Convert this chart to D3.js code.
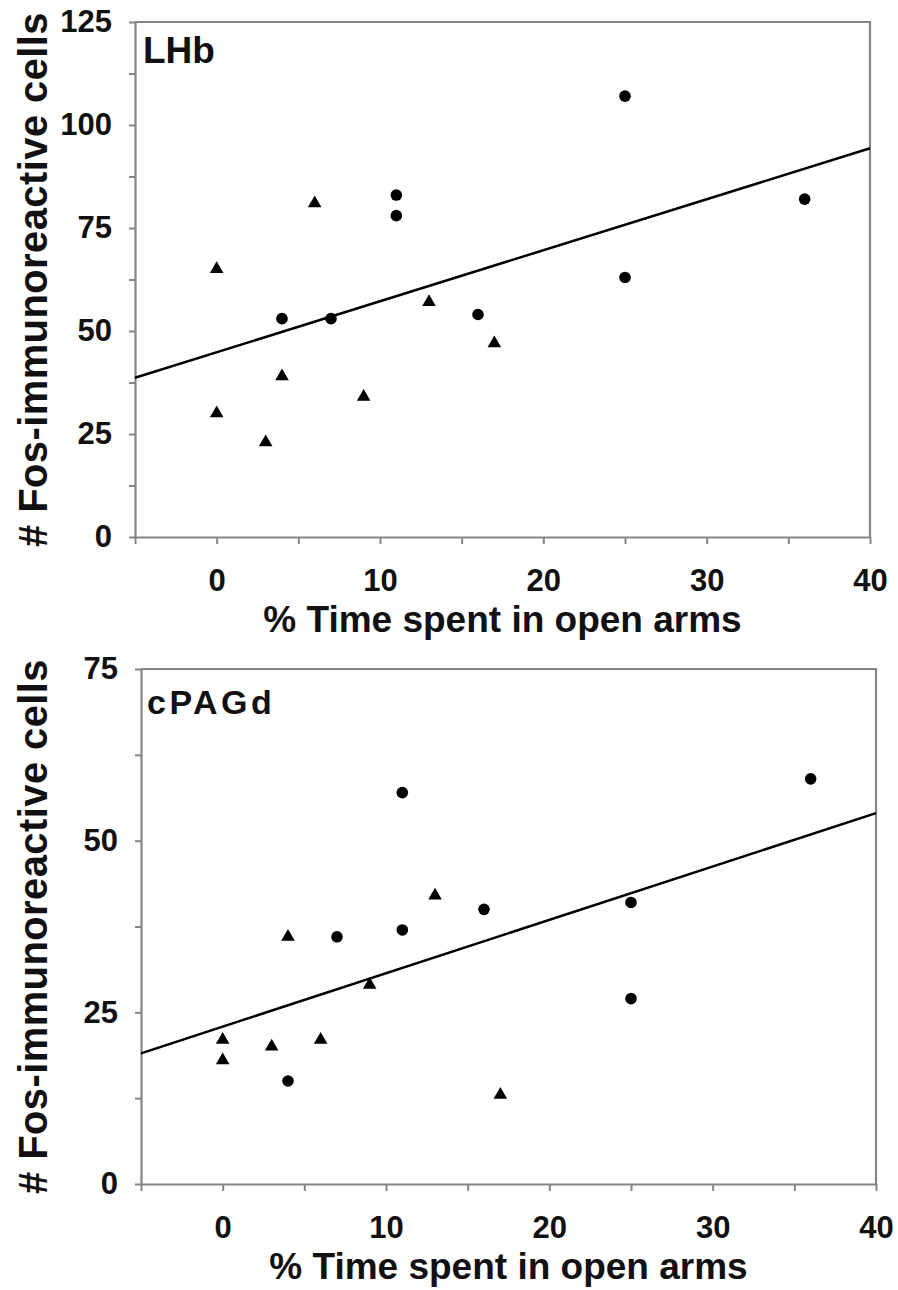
<!DOCTYPE html>
<html lang="en">
<head>
    <meta charset="UTF-8">
    <title>Fos-immunoreactive cells vs open arm time</title>
    <script src="https://d3js.org/d3.v7.min.js"></script>
    <style>
        body { margin: 0; background: #fff; }
        text { font-family: "Liberation Sans", Arial, sans-serif; font-weight: bold; fill: #111; }
    </style>
</head>
<body>
    <div id="chart"></div>

    <script>
        // % time in open arms, same animals in both panels
        const timeTri = [0, 0, 3, 4, 6, 9, 13, 17];
        const timeCirc = [4, 7, 11, 11, 16, 25, 25, 36];

        // # Fos-immunoreactive cells
        const lhbTri = [65, 30, 23, 39, 81, 34, 57, 47];
        const lhbCirc = [53, 53, 83, 78, 54, 107, 63, 82];
        const pagTri = [21, 18, 20, 36, 21, 29, 42, 13];
        const pagCirc = [15, 36, 57, 37, 40, 41, 27, 59];

        const xTicks = [0, 10, 20, 30, 40];
        const lhbYTicks = [0, 25, 50, 75, 100, 125];
        const pagYTicks = [0, 25, 50, 75];

        const xTitle = "% Time spent in open arms";
        const yTitle = "# Fos-immunoreactive cells";

        const width = 898;
        const height = 1290;
        const axisGrey = "#858585";

        const svg = d3.select("#chart").append("svg")
            .attr("width", width)
            .attr("height", height);

        function fit(xs, ys) {
            const mx = d3.mean(xs), my = d3.mean(ys);
            let sxy = 0, sxx = 0;
            xs.forEach((v, i) => {
                sxy += (v - mx) * (ys[i] - my);
                sxx += (v - mx) * (v - mx);
            });
            const slope = sxy / sxx;
            return { slope: slope, icpt: my - slope * mx };
        }

        function drawPanel(p) {
            const x = d3.scaleLinear().domain([-5, 40]).range([p.left, p.right]);
            const yMax = p.yTicks[p.yTicks.length - 1];
            const y = d3.scaleLinear().domain([0, yMax]).range([p.bottom, p.top]);
            const g = svg.append("g");

            // frame: top and right edges
            g.append("path")
                .attr("d", "M" + p.left + "," + p.top + "H" + p.right + "V" + p.bottom)
                .attr("fill", "none")
                .attr("stroke", axisGrey)
                .attr("stroke-width", 2.2);

            const yStep = p.yTicks[1] - p.yTicks[0];
            const yAll = [];
            p.yTicks.forEach((t, i) => {
                yAll.push(t);
                if (i < p.yTicks.length - 1) yAll.push(t + yStep / 2);
            });
            const yAxis = g.append("g")
                .attr("transform", "translate(" + p.left + ",0)")
                .call(d3.axisLeft(y).tickValues(yAll).tickSize(6).tickSizeOuter(0).tickPadding(17)
                    .tickFormat(d => p.yTicks.includes(d) ? d : ""));

            const xStep = xTicks[1] - xTicks[0];
            const xAll = [];
            xTicks.forEach(t => { xAll.push(t); xAll.push(t - xStep / 2); });
            const xAxis = g.append("g")
                .attr("transform", "translate(0," + p.bottom + ")")
                .call(d3.axisBottom(x).tickValues(xAll).tickSize(7).tickSizeOuter(0).tickPadding(25)
                    .tickFormat(d => xTicks.includes(d) ? d : ""));

            [yAxis, xAxis].forEach(a => {
                a.select(".domain").attr("stroke", axisGrey).attr("stroke-width", 2.2);
                a.selectAll(".tick line").attr("stroke", axisGrey).attr("stroke-width", 2);
                a.selectAll(".tick text")
                    .attr("font-family", "Liberation Sans, Arial, sans-serif")
                    .attr("font-weight", "bold")
                    .attr("font-size", 31)
                    .attr("fill", "#111");
            });

            // regression line through all points
            const xsAll = timeTri.concat(timeCirc);
            const ysAll = p.tri.concat(p.circ);
            const f = fit(xsAll, ysAll);
            const [x0, x1] = x.domain();
            g.append("line")
                .attr("x1", x(x0)).attr("y1", y(f.icpt + f.slope * x0))
                .attr("x2", x(x1)).attr("y2", y(f.icpt + f.slope * x1))
                .attr("stroke", "#000")
                .attr("stroke-width", 2.5);

            g.selectAll(".tri")
                .data(timeTri.map((t, i) => [t, p.tri[i]]))
                .enter().append("path")
                .attr("class", "tri")
                .attr("transform", d => "translate(" + x(d[0]) + "," + y(d[1]) + ")")
                .attr("d", d3.symbol(d3.symbolTriangle, 80))
                .attr("fill", "#000");

            g.selectAll(".circ")
                .data(timeCirc.map((t, i) => [t, p.circ[i]]))
                .enter().append("circle")
                .attr("class", "circ")
                .attr("cx", d => x(d[0]))
                .attr("cy", d => y(d[1]))
                .attr("r", 5.8)
                .attr("fill", "#000");

            g.append("text")
                .attr("x", p.left + p.labelDx)
                .attr("y", p.top + p.labelDy)
                .attr("font-size", p.labelSize)
                .attr("letter-spacing", p.labelSpacing)
                .text(p.label);

            g.append("text")
                .attr("x", (p.left + p.right) / 2)
                .attr("y", p.bottom + 95)
                .attr("text-anchor", "middle")
                .attr("font-size", 37)
                .text(xTitle);

            g.append("text")
                .attr("transform", "translate(47," + (p.top + p.bottom) / 2 + ") rotate(-90)")
                .attr("text-anchor", "middle")
                .attr("font-size", 40)
                .attr("letter-spacing", 0.4)
                .text(yTitle);
        }

        drawPanel({
            label: "LHb", labelSize: 37, labelSpacing: 0, labelDx: 8, labelDy: 41,
            tri: lhbTri, circ: lhbCirc, yTicks: lhbYTicks,
            left: 135, right: 870, top: 22, bottom: 537
        });

        drawPanel({
            label: "cPAGd", labelSize: 34, labelSpacing: 3.5, labelDx: 6, labelDy: 45,
            tri: pagTri, circ: pagCirc, yTicks: pagYTicks,
            left: 141, right: 876, top: 669, bottom: 1184
        });
    </script>
</body>
</html>
